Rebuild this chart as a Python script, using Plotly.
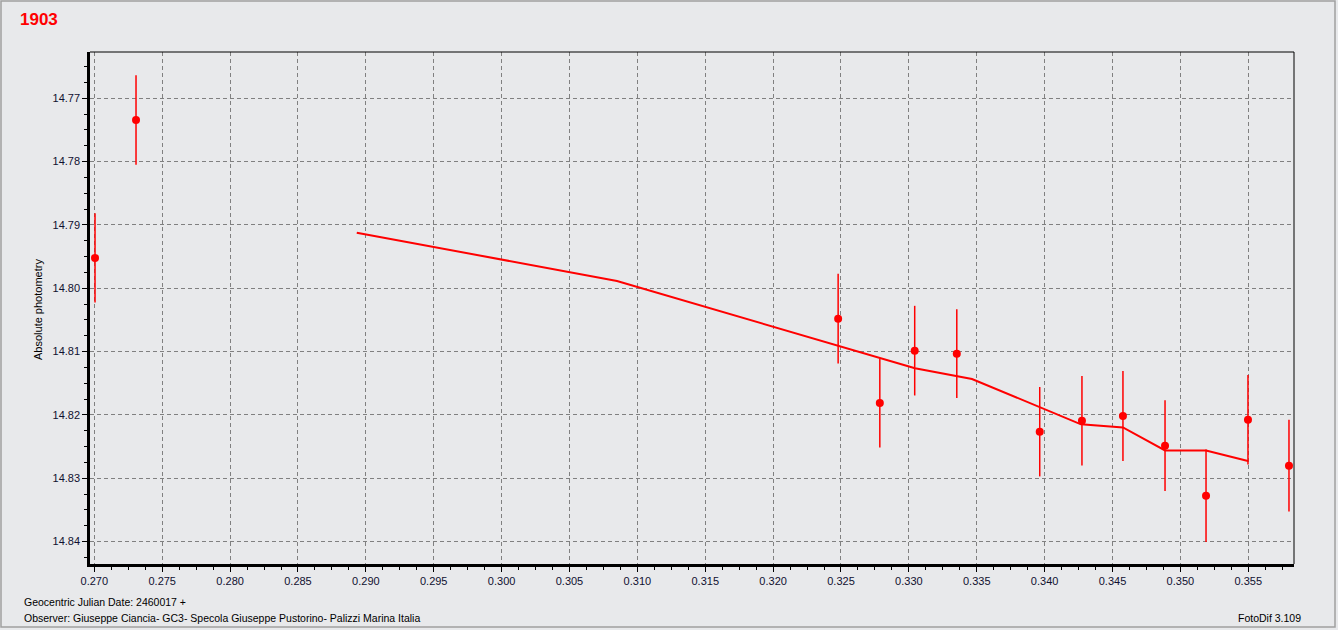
import plotly.graph_objects as go

# Observed points (Geocentric JD - 2460017, magnitude, error)
obs_x = [0.27005, 0.27307, 0.32479, 0.32786, 0.33043, 0.33353, 0.33964,
         0.34275, 0.34577, 0.34887, 0.35189, 0.35498, 0.35800]
obs_y = [14.7952, 14.77343, 14.8048, 14.8181, 14.80985, 14.81033, 14.82265,
         14.82091, 14.82017, 14.82486, 14.83275, 14.82075, 14.82801]
obs_err = [0.00703, 0.00705, 0.00708, 0.00703, 0.00708, 0.0070, 0.00706,
           0.00706, 0.0071, 0.00716, 0.0073, 0.00706, 0.00724]

# Fitted curve vertices
fit_x = [0.28933, 0.30850, 0.33045, 0.33465, 0.34268, 0.34577, 0.34887, 0.35189, 0.35498]
fit_y = [14.79122, 14.79885, 14.81263, 14.81432, 14.82148, 14.82198, 14.82561, 14.82561, 14.82727]

title_text = "1903"
y_title = "Absolute photometry"
footer1 = "Geocentric Julian Date: 2460017 +"
footer2 = "Observer: Giuseppe Ciancia- GC3- Specola Giuseppe Pustorino- Palizzi Marina Italia"
footer3 = "FotoDif 3.109"

RED = "#ff0000"
BG = "#e8e9eb"
FONT = "Liberation Sans, Arial, sans-serif"

W, H = 1338, 630
L, R, T, B = 90, 1294, 52, 564
PW, PH = R - L, B - T


def px(xp):
    return (xp - L) / PW


def py(yp):
    return (B - yp) / PH


fig = go.Figure()
fig.add_trace(go.Scatter(
    x=fit_x, y=fit_y, mode="lines",
    line=dict(color=RED, width=2), hoverinfo="skip", showlegend=False))
fig.add_trace(go.Scatter(
    x=obs_x, y=obs_y, mode="markers",
    marker=dict(color=RED, size=8, symbol="circle", line=dict(width=0)),
    error_y=dict(type="data", array=obs_err, color=RED, thickness=1.5, width=0),
    showlegend=False))

fig.update_layout(
    width=W, height=H,
    margin=dict(l=L, r=W - R, t=T, b=H - B, pad=0),
    paper_bgcolor=BG, plot_bgcolor=BG,
    font=dict(family=FONT, size=11, color="#000000"),
    showlegend=False,
)

fig.update_xaxes(
    range=[0.26968, 0.35837], dtick=0.005, tick0=0.27, tickformat=".3f",
    showline=True, linecolor="black", linewidth=2.5,
    ticks="outside", ticklen=5, tickcolor="black", tickwidth=1,
    showgrid=True, gridcolor="#808080", gridwidth=1, griddash="4px,3px",
    minor=dict(dtick=0.00125, ticks="outside", ticklen=3, tickcolor="black", showgrid=False),
    zeroline=False, tickfont=dict(family=FONT, size=11, color="#101030"),
)
fig.update_yaxes(
    range=[14.84354, 14.76269], dtick=0.01, tick0=14.77, tickformat=".2f",
    showline=True, linecolor="black", linewidth=2.5,
    ticks="outside", ticklen=5, tickcolor="black", tickwidth=1,
    showgrid=True, gridcolor="#808080", gridwidth=1, griddash="4px,3px",
    minor=dict(dtick=0.0025, ticks="outside", ticklen=3, tickcolor="black", showgrid=False),
    zeroline=False, tickfont=dict(family=FONT, size=11, color="#101030"),
)

shapes = [
    # thin top and right frame
    dict(type="line", xref="paper", yref="paper", x0=0, x1=1, y0=1, y1=1,
         line=dict(color="black", width=1)),
    dict(type="line", xref="paper", yref="paper", x0=1, x1=1, y0=0, y1=1,
         line=dict(color="black", width=1)),
    # outer window border
    dict(type="rect", xref="paper", yref="paper",
         x0=px(1), x1=px(1335), y0=py(627), y1=py(1),
         line=dict(color="#a0a0a0", width=1.5), fillcolor="rgba(0,0,0,0)", layer="below"),
]
fig.update_layout(shapes=shapes)

annotations = [
    dict(text="<b>%s</b>" % title_text, xref="paper", yref="paper",
         x=px(18), y=py(19), xanchor="left", yanchor="middle", showarrow=False,
         font=dict(family=FONT, size=17, color=RED)),
    dict(text=y_title, xref="paper", yref="paper", textangle=-90,
         x=px(38), y=py(310), xanchor="center", yanchor="middle", showarrow=False,
         font=dict(family=FONT, size=11, color="#000000")),
    dict(text=footer1, xref="paper", yref="paper",
         x=px(22), y=py(602), xanchor="left", yanchor="middle", showarrow=False,
         font=dict(family=FONT, size=10.5, color="#000000")),
    dict(text=footer2, xref="paper", yref="paper",
         x=px(22), y=py(618), xanchor="left", yanchor="middle", showarrow=False,
         font=dict(family=FONT, size=10.5, color="#000000")),
    dict(text=footer3, xref="paper", yref="paper",
         x=px(1303), y=py(618), xanchor="right", yanchor="middle", showarrow=False,
         font=dict(family=FONT, size=10.5, color="#000000")),
]
fig.update_layout(annotations=annotations)

fig.write_html("out.html", config={"displayModeBar": False},
               post_script="document.body.style.margin='0';document.body.style.overflow='hidden';")
